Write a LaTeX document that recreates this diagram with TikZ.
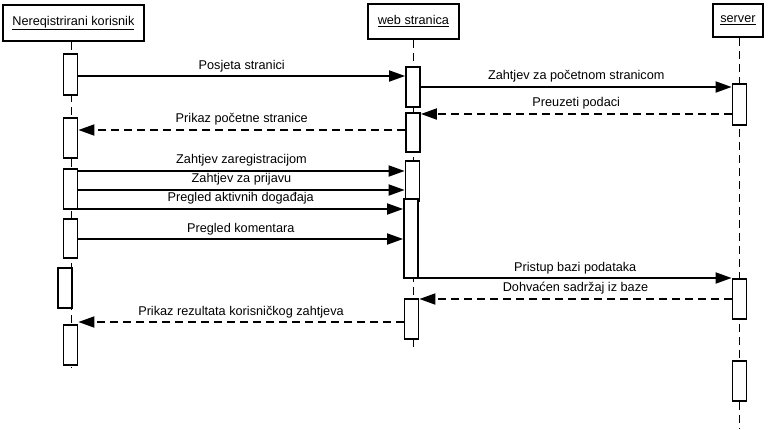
\documentclass[tikz,border=0pt]{standalone}
\usepackage{fontspec}
\setmainfont{Liberation Sans}
\usetikzlibrary{arrows.meta}
\begin{document}
\begin{tikzpicture}[x=1pt,y=-1pt,
  actor/.style={draw,line width=1.8pt,fill=white,inner sep=0pt,anchor=north west},
  act/.style={draw,line width=1.8pt,fill=white,inner sep=0pt,minimum width=14pt},
  life/.style={line width=1pt,dash pattern=on 8pt off 5pt},
  msg/.style={line width=1.8pt,-{Triangle[length=16pt,width=11pt]}},
  ret/.style={msg,dash pattern=on 8pt off 5pt},
  lbl/.style={font=\fontsize{12.7}{14}\selectfont,anchor=south,inner sep=0pt}]
\useasboundingbox (0,0) rectangle (768,429);
% actors
\node[actor,minimum width=141pt,minimum height=36pt] (ak) at (2,4) {};
\node[font=\fontsize{12.7}{14}\selectfont] at (ak.center) {\underline{Nereqistrirani korisnik}};
\node[actor,minimum width=91pt,minimum height=35pt] (aw) at (367,3) {};
\node[font=\fontsize{12.7}{14}\selectfont] at (aw.center) {\underline{web stranica}};
\node[actor,minimum width=50pt,minimum height=33pt] (as) at (712,3) {};
\node[font=\fontsize{12.7}{14}\selectfont] at (as.center) {\underline{server}};
% lifelines
\coordinate (kend) at (71,368);
\coordinate (wend) at (413,347);
\coordinate (send) at (739,429);
\draw[life] (ak.south -| kend) -- (kend);
\draw[life] (aw.south -| wend) -- (wend);
\draw[life] (as.south -| send) -- (send);
% activations korisnik
\node[act,minimum height=41pt] (k1) at (70.5,74.5) {};
\node[act,minimum height=40pt] (k2) at (70.5,138) {};
\node[act,minimum height=40pt] (k3) at (70.5,189) {};
\node[act,minimum height=39pt] (k4) at (70.5,238.5) {};
\node[act,minimum height=40pt] (k5) at (65,288) {};
\node[act,minimum height=40pt] (k6) at (70.5,345) {};
% activations web
\node[act,minimum height=40pt] (w1) at (413,87) {};
\node[act,minimum height=39pt] (w2) at (413,132.5) {};
\node[act,minimum height=40pt] (w3) at (412.5,181) {};
\node[act,minimum height=79pt] (w4) at (411,238.5) {};
\node[act,minimum height=40pt] (w5) at (411.5,319) {};
% activations server
\node[act,minimum height=41pt] (s1) at (739.5,104.5) {};
\node[act,minimum height=40pt] (s2) at (739.5,299) {};
\node[act,minimum height=40pt] (s3) at (739.5,381) {};
% message levels
\coordinate (y1) at (0,76);
\coordinate (y2) at (0,87);
\coordinate (y3) at (0,114);
\coordinate (y4) at (0,130);
\coordinate (y5) at (0,171);
\coordinate (y6) at (0,190);
\coordinate (y7) at (0,209);
\coordinate (y8) at (0,239);
\coordinate (y9) at (0,278);
\coordinate (y10) at (0,299);
\coordinate (y11) at (0,322);
% messages
\draw[msg] (k1.east |- y1) -- node[lbl,above=3pt]{Posjeta stranici} (w1.west |- y1);
\draw[msg] (w1.east |- y2) -- node[lbl,above=4pt]{Zahtjev za početnom stranicom} (s1.west |- y2);
\draw[ret] (s1.west |- y3) -- node[lbl,above=4pt]{Preuzeti podaci} (w2.east |- y3);
\draw[ret] (w2.west |- y4) -- node[lbl,above=4pt]{Prikaz početne stranice} (k2.east |- y4);
\draw[msg] (k3.east |- y5) -- node[lbl,above=4pt]{Zahtjev zaregistracijom} (w3.west |- y5);
\draw[msg] (k3.east |- y6) -- node[lbl,above=4pt]{Zahtjev za prijavu} (w3.west |- y6);
\draw[msg] (k3.east |- y7) -- node[lbl,above=4pt]{Pregled aktivnih događaja} (w4.west |- y7);
\draw[msg] (k4.east |- y8) -- node[lbl,above=3pt]{Pregled komentara} (w4.west |- y8);
\draw[msg] (w4.east |- y9) -- node[lbl,above=3pt]{Pristup bazi podataka} (s2.west |- y9);
\draw[ret] (s2.west |- y10) -- node[lbl,above=4pt]{Dohvaćen sadržaj iz baze} (w5.east |- y10);
\draw[ret] (w5.west |- y11) -- node[lbl,above=3pt]{Prikaz rezultata korisničkog zahtjeva} (k6.east |- y11);
\end{tikzpicture}
\end{document}
